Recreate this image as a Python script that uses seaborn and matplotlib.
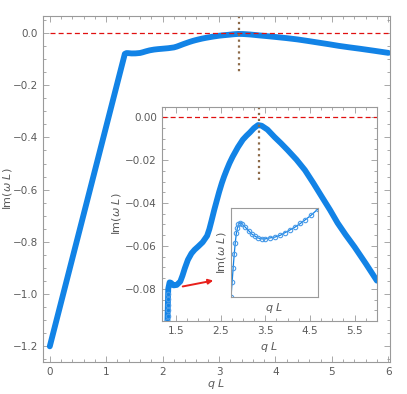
import matplotlib
matplotlib.use("Agg")
import matplotlib.pyplot as plt
import seaborn as sns
from matplotlib.ticker import MultipleLocator

# values
q_curve = [0.0, 1.33, 1.36, 1.39, 1.45, 1.52, 1.6, 1.65, 1.7, 1.77, 1.85, 1.92,
           2.0, 2.1, 2.2, 2.25, 2.3, 2.36, 2.42, 2.47, 2.53, 2.58, 2.64, 2.7,
           2.77, 2.89, 3.0, 3.08, 3.16, 3.25, 3.34, 3.42, 3.55, 3.71, 3.85, 4.0,
           4.2, 4.39, 4.58, 4.77, 4.95, 5.12, 5.3, 5.5, 5.75, 6.0]
im_curve = [-1.2, -0.080, -0.0770, -0.0772, -0.0784, -0.0782, -0.0766, -0.0738,
            -0.0705, -0.0665, -0.0635, -0.0618, -0.0603, -0.0583, -0.0553,
            -0.0522, -0.0482, -0.0432, -0.0386, -0.0348, -0.0307, -0.0277,
            -0.0245, -0.0215, -0.0185, -0.0140, -0.0105, -0.0087, -0.0071,
            -0.0051, -0.0037, -0.0040, -0.0058, -0.0093, -0.0121, -0.0153,
            -0.0198, -0.0247, -0.0308, -0.0372, -0.0432, -0.0493, -0.0548,
            -0.0605, -0.0682, -0.0762]

# steep part shown as open circles in the inset
q_steep = [1.300, 1.303, 1.306, 1.309, 1.312, 1.315, 1.318, 1.321, 1.324, 1.327]
im_steep = [-0.1052, -0.1026, -0.1001, -0.0976, -0.0950, -0.0925, -0.0899,
            -0.0874, -0.0849, -0.0823]

# small zoom of the kink
q_zoom = [1.330, 1.334, 1.338, 1.342, 1.346, 1.350, 1.354, 1.358, 1.364, 1.372,
          1.383, 1.396, 1.409, 1.42, 1.431, 1.445, 1.458, 1.475, 1.495, 1.515,
          1.533, 1.552, 1.57, 1.59, 1.608, 1.63, 1.656]
im_zoom = [-0.0850, -0.0834, -0.0818, -0.0803, -0.0790, -0.0780, -0.0774,
           -0.0770, -0.0768, -0.0770, -0.0773, -0.0777, -0.0781, -0.0783,
           -0.0785, -0.0786, -0.0786, -0.0785, -0.0784, -0.0782, -0.0779,
           -0.0776, -0.0773, -0.0769, -0.0765, -0.0760, -0.0753]

q_peak = 3.35

BLUE = "#1283e6"
LIGHT = "#4a9be8"
RED = "#e01010"
BROWN = "#8c6a48"
GRAY = "#9a9a9a"
TXT = "#5a5a5a"

sns.set_style("ticks")
plt.rcParams["font.family"] = ["DejaVu Sans"]
plt.rcParams["mathtext.fontset"] = "dejavusans"

fig = plt.figure(figsize=(4.07, 3.94), dpi=100)


def frame(ax, size):
    for s in ax.spines.values():
        s.set_color(GRAY)
        s.set_linewidth(0.8)
    ax.tick_params(which="both", direction="in", top=True, right=True,
                   colors=GRAY, labelcolor=TXT, labelsize=size, width=0.6)
    ax.tick_params(which="major", length=4)
    ax.tick_params(which="minor", length=2)


ylab = r"Im($\omega$ $L$)"
xlab = r"$q$ $L$"
dash = (0, (4, 2.5))

# main axes
ax = fig.add_axes([0.1057, 0.0812, 0.8526, 0.8782])
sns.lineplot(x=q_curve, y=im_curve, ax=ax, color=BLUE, lw=4.2, sort=False,
             solid_capstyle="round")
ax.plot([0, 6], [0, 0], ls=dash, color=RED, lw=0.9)
ax.plot([q_peak, q_peak], [0.065, -0.153], ls=":", color=BROWN, lw=1.6)
ax.set_xlim(-0.12, 6.03)
ax.set_ylim(-1.26, 0.065)
ax.xaxis.set_major_locator(MultipleLocator(1))
ax.xaxis.set_minor_locator(MultipleLocator(0.2))
ax.yaxis.set_major_locator(MultipleLocator(0.2))
ax.yaxis.set_minor_locator(MultipleLocator(0.05))
ax.yaxis.set_major_formatter(lambda v, p: f"{v:.1f}".replace("-", "\u2212"))
frame(ax, 7.5)
ax.set_xlabel(xlab, color=TXT, fontsize=8)
ax.set_ylabel(ylab, color=TXT, fontsize=8)
ax.xaxis.set_label_coords(0.5, -0.043)
ax.yaxis.set_label_coords(-0.084, 0.5)

# inset
ins = fig.add_axes([0.398, 0.1853, 0.528, 0.543])
sns.lineplot(x=q_curve, y=im_curve, ax=ins, color=BLUE, lw=4.2, sort=False)
ins.plot(q_steep, im_steep, ls="none", marker="o", ms=3.2, mfc="none",
         mec=LIGHT, mew=0.8)
ins.plot([1.19, 6.0], [0, 0], ls=dash, color=RED, lw=0.9)
ins.plot([3.36, 3.36], [0.0047, -0.0305], ls=":", color=BROWN, lw=1.6)
ins.set_xlim(1.19, 6.0)
ins.set_ylim(-0.095, 0.0047)
ins.xaxis.set_major_locator(MultipleLocator(1.0, offset=0.5))
ins.xaxis.set_minor_locator(MultipleLocator(0.25))
ins.yaxis.set_major_locator(MultipleLocator(0.02))
ins.yaxis.set_minor_locator(MultipleLocator(0.005))
ins.yaxis.set_major_formatter(lambda v, p: f"{v:.2f}".replace("-", "\u2212"))
frame(ins, 7.5)
ins.set_xlabel(xlab, color=TXT, fontsize=8, labelpad=3)
ins.set_ylabel(ylab, color=TXT, fontsize=8, labelpad=2)

# zoom of the kink
sub = fig.add_axes([0.5676, 0.2462, 0.2138, 0.2259])
sns.lineplot(x=q_zoom, y=im_zoom, ax=sub, color=BLUE, lw=0.9, sort=False)
sub.plot(q_zoom, im_zoom, ls="none", marker="o", ms=3.2, mfc="none",
         mec=LIGHT, mew=0.8)
sub.set_xlim(1.33, 1.656)
sub.set_ylim(-0.085, -0.0752)
sub.set_xticks([])
sub.set_yticks([])
for s in sub.spines.values():
    s.set_color(GRAY)
    s.set_linewidth(0.8)
sub.set_xlabel(xlab, color=TXT, fontsize=8, labelpad=3)
sub.set_ylabel(ylab, color=TXT, fontsize=8, labelpad=2)

# arrow pointing to the zoom
fig.add_artist(matplotlib.patches.FancyArrowPatch(
    (180 / 407, 1 - 287 / 394), (216 / 407, 1 - 280 / 394),
    transform=fig.transFigure, arrowstyle="-|>", mutation_scale=7,
    color="#e8201c", lw=1.4))

fig.savefig("out.png", dpi=100)
